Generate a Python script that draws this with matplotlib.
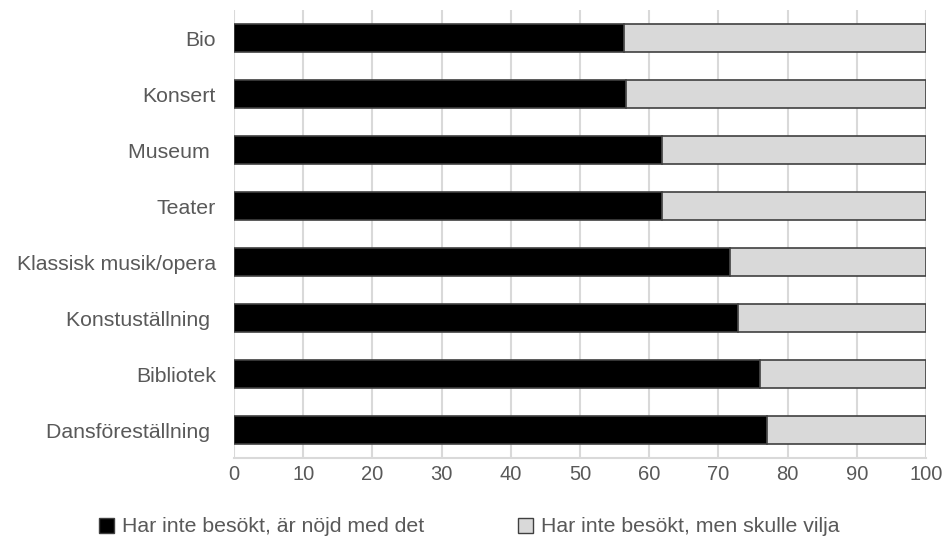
import matplotlib.pyplot as plt
from matplotlib.patches import Patch
import numpy as np

categories = ['Bio', 'Konsert', 'Museum ', 'Teater', 'Klassisk musik/opera',
              'Konstuställning ', 'Bibliotek', 'Dansföreställning ']
satisfied = [56.4, 56.6, 61.8, 61.8, 71.7, 72.8, 76.0, 77.0]
would_like = [100 - v for v in satisfied]
series_names = ['Har inte besökt, är nöjd med det', 'Har inte besökt, men skulle vilja']

plt.rcParams['font.family'] = ['Liberation Sans', 'DejaVu Sans']
text_color = '#595959'
grid_color = '#d9d9d9'

fig = plt.figure(figsize=(9.48, 5.47), dpi=100)
ax = fig.add_axes([234 / 948, 1 - 458 / 547, (926 - 234) / 948, (458 - 10) / 547])

y = np.arange(len(categories))
ax.barh(y, satisfied, height=0.5, color='black', edgecolor='#404040', linewidth=1.2, zorder=3)
ax.barh(y, would_like, left=satisfied, height=0.5, color='#d9d9d9', edgecolor='#404040',
        linewidth=1.2, zorder=3)

ax.set_ylim(len(categories) - 0.5, -0.5)
ax.set_xlim(0, 100)
ax.set_xticks(range(0, 101, 10))
ax.set_yticks(y)
ax.set_yticklabels(categories)
ax.xaxis.grid(True, color=grid_color, linewidth=1.5, zorder=0)
ax.set_axisbelow(True)
for s in ['top', 'right', 'left']:
    ax.spines[s].set_visible(False)
ax.spines['bottom'].set_color(grid_color)
ax.spines['bottom'].set_linewidth(1.5)
ax.tick_params(axis='both', length=0, colors=text_color)
ax.tick_params(axis='y', pad=13, labelsize=15.3)
ax.tick_params(axis='x', pad=5, labelsize=14.5)

handles = [Patch(facecolor='black', edgecolor='#404040'),
           Patch(facecolor='#d9d9d9', edgecolor='#404040')]
leg = fig.legend(handles, series_names, loc='center', bbox_to_anchor=(0.495, 1 - 527 / 547),
                 ncol=2, frameon=False, fontsize=15.3, handlelength=0.7, handleheight=0.7,
                 handletextpad=0.4, columnspacing=4.4)
for t in leg.get_texts():
    t.set_color(text_color)

fig.savefig('out.png', dpi=100)
